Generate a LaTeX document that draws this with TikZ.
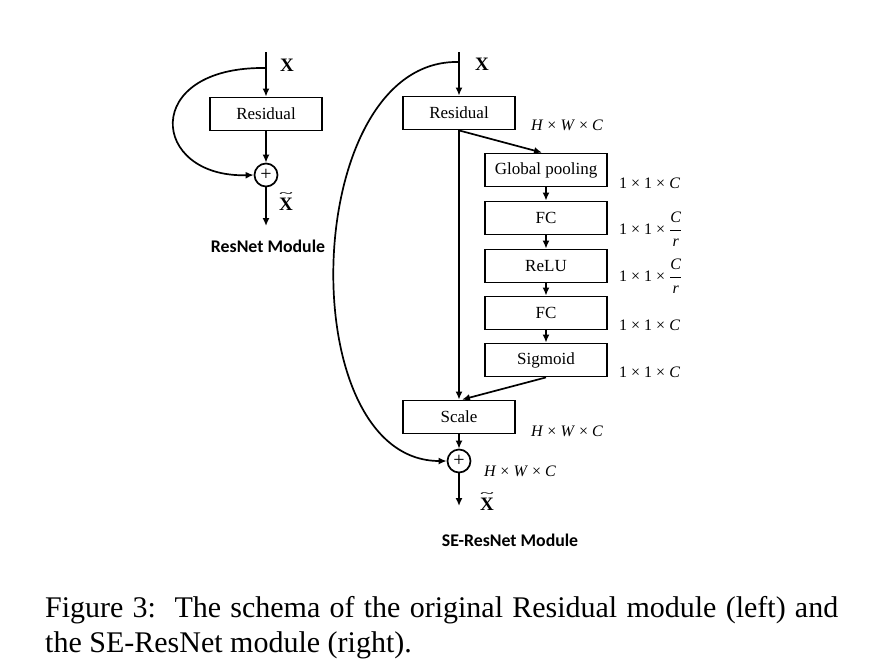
\documentclass[tikz,border=0pt]{standalone}
\usepackage{amsmath}
\usepackage{graphicx}
\usepackage{fontspec}
\setmainfont{Liberation Serif}
\newfontfamily\labfont{Carlito}
\usetikzlibrary{arrows.meta}
\newcommand\dimHWC{\textit{H} × \textit{W} × \textit{C}}
\newcommand\dimC{1 × 1 × \textit{C}}
\newcommand\dimCr{1 × 1 × $\dfrac{\text{\itshape C}}{\text{\itshape r}}$}
\newcommand\Xtil{\leavevmode\rlap{\hspace{0.02em}\raisebox{0.74em}{\resizebox{0.68em}{0.2em}{\textasciitilde}}}X}
\begin{document}
\begin{tikzpicture}[x=1pt,y=-1pt,
 box/.style={draw, line width=1.8pt, minimum width=112pt, minimum height=33pt, inner sep=0pt, font=\fontsize{17}{20}\selectfont},
 sebox/.style={box, minimum width=122pt},
 arr/.style={line width=1.7pt, -{Latex[length=8pt,width=7pt]}},
 plus/.style={draw, circle, line width=1.7pt, minimum size=23pt, inner sep=0pt, font=\fontsize{20}{22}\selectfont},
 dim/.style={font=\fontsize{16}{19}\selectfont, anchor=west, inner sep=0pt},
 xl/.style={font=\fontsize{19}{22}\selectfont\bfseries, inner sep=0pt},
 modl/.style={font=\labfont\fontsize{17.8}{20}\selectfont\bfseries, inner sep=0pt},
 captext/.style={font=\fontsize{30}{35}\selectfont, anchor=base west, inner sep=0pt},
]
\useasboundingbox (0,0) rectangle (885,670);

% ---------- left: ResNet module ----------
\coordinate (lt) at (266,52);
\coordinate (lsplit) at (266,68);
\node[box] (lres) at (266,114) {Residual};
\node[plus] (lplus) at (266,175) {+};
\coordinate (lout) at (266,226);
\draw[arr] (lt) -- (lres);
\draw[arr] (lres) -- (lplus);
\draw[arr] (lplus) -- (lout);
\draw[arr] (lsplit) .. controls (140,66) and (150,178) .. (lplus.west);
\node[xl] (lx) at (287,65) {X};
\node[xl] (lxt) at (286,202) {\Xtil};
\node[modl] (lmod) at (268,246) {ResNet Module};

% ---------- right: SE-ResNet module ----------
\coordinate (rt) at (459,52);
\coordinate (rsplit) at (459,62);
\node[box] (rres) at (459,113) {Residual};
\node[sebox] (gp) at (546,170) {Global pooling};
\node[sebox] (fc1) at (546,218) {FC};
\node[sebox] (relu) at (546,266) {ReLU};
\node[sebox] (fc2) at (546,313) {FC};
\node[sebox] (sig) at (546,360) {Sigmoid};
\node[box] (scale) at (459,417) {Scale};
\node[plus] (rplus) at (459,461) {+};
\coordinate (rout) at (459,506);

\draw[arr] (rt) -- (rres);
\draw[arr] (rres.south) -- (scale.north);
\draw[arr] (rres.south) -- ([xshift=-4pt]gp.north);
\draw[arr] (gp) -- (fc1);
\draw[arr] (fc1) -- (relu);
\draw[arr] (relu) -- (fc2);
\draw[arr] (fc2) -- (sig);
\draw[arr] (sig.south) -- ([xshift=3pt]scale.north);
\draw[arr] (scale) -- (rplus);
\draw[arr] (rplus) -- (rout);
\draw[arr] (rsplit) .. controls (300,58) and (290,461) .. (rplus.west);

\node[xl] (rx) at (482,64) {X};
\node[xl] (rxt) at (487,502) {\Xtil};
\node[modl] (rmod) at (510,540) {SE-ResNet Module};

\node[dim] (d0) at (531,125) {\dimHWC};
\node[dim] (d1) at (619,183) {\dimC};
\node[dim] (d2) at (619,229) {\dimCr};
\node[dim] (d3) at (619,276) {\dimCr};
\node[dim] (d4) at (619,325) {\dimC};
\node[dim] (d5) at (619,372) {\dimC};
\node[dim] (d6) at (531,431) {\dimHWC};
\node[dim] (d7) at (484,471) {\dimHWC};

% ---------- caption ----------
\node[captext] (cap1) at (45,617) {\makebox[793pt][s]{Figure 3:\ \ The schema of the original Residual module (left) and}};
\node[captext] (cap2) at (45,652) {the SE-ResNet module (right).};
\end{tikzpicture}
\end{document}
